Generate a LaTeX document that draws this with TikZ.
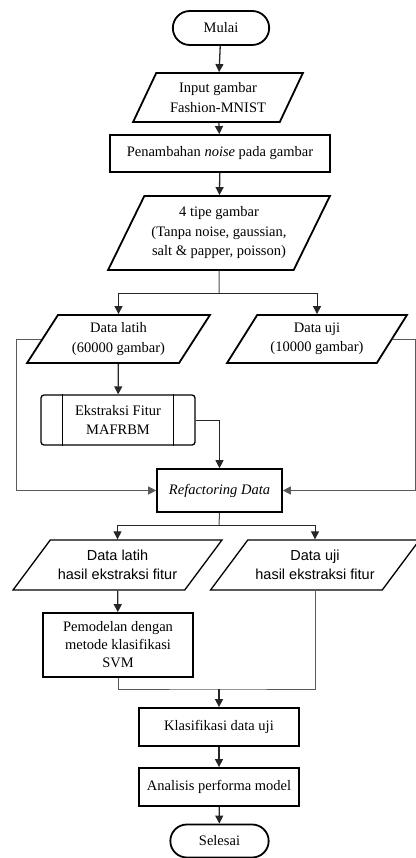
\documentclass[tikz,border=0pt]{standalone}
\usepackage{fontspec}
\setmainfont{Liberation Serif}
\newfontfamily\sansfont{Liberation Sans}
\usetikzlibrary{shapes.geometric,shapes.misc,arrows.meta,positioning}

\begin{document}
\begin{tikzpicture}[x=1pt,y=-1pt,font=\fontsize{14.5}{19.5}\selectfont]
      \tikzstyle{terminal} = [rounded rectangle, draw, line width=1.8pt, minimum width=103pt, minimum height=34pt]
      \tikzstyle{proses} = [rectangle, draw, line width=1.8pt, align=center, inner sep=2pt]
      \tikzstyle{subproses} = [rectangle, rounded corners=3pt, draw, line width=1.3pt, align=center, inner sep=2pt]
      \tikzstyle{io} = [trapezium, trapezium stretches=true, draw, line width=1.8pt, align=center, inner sep=2pt]
      \tikzstyle{sans} = [font=\fontsize{14.5}{19.5}\sansfont]
      \tikzstyle{panah} = [-{Triangle[length=8pt,width=8pt]}, line width=1.3pt, black!85]
      \tikzstyle{garis} = [line width=1pt, black!65]

      \useasboundingbox (0,0) rectangle (415,858);

      \node[terminal] (t1) at (221,28) {Mulai};
      \node[io, minimum width=170pt, minimum height=49pt, trapezium left angle=61, trapezium right angle=119] (d1) at (218,97.5) {Input gambar\\Fashion-MNIST};
      \node[proses, minimum width=220pt, minimum height=37pt] (p1) at (220,153.5) {Penambahan \textit{noise} pada gambar};
      \node[io, minimum width=222pt, minimum height=74pt, trapezium left angle=59, trapezium right angle=121] (d2) at (219,233) {4 tipe gambar\\(Tanpa noise, gaussian,\\salt \& papper, poisson)};

      \node[io, minimum width=183pt, minimum height=48pt, trapezium left angle=56, trapezium right angle=124] (d3) at (118.5,339) {Data latih\\(60000 gambar)};
      \node[io, minimum width=180pt, minimum height=48pt, trapezium left angle=56, trapezium right angle=124] (d4) at (317,339) {Data uji\\(10000 gambar)};

      \node[subproses, minimum width=154pt, minimum height=50pt] (p2) at (118,420) {Ekstraksi Fitur\\MAFRBM};
      \draw[line width=1.3pt] ([xshift=22pt]p2.north west) -- ([xshift=22pt]p2.south west);
      \draw[line width=1.3pt] ([xshift=-22pt]p2.north east) -- ([xshift=-22pt]p2.south east);

      \node[proses, line width=1.6pt, minimum width=125pt, minimum height=43pt] (p3) at (219.5,490.5) {\textit{Refactoring Data}};

      \node[io, sans, line width=1.3pt, minimum width=209pt, minimum height=50pt, trapezium left angle=45, trapezium right angle=135] (d5) at (117.5,565) {Data latih\\hasil ekstraksi fitur};
      \node[io, sans, line width=1.3pt, minimum width=209pt, minimum height=50pt, trapezium left angle=45, trapezium right angle=135] (d6) at (315,565) {Data uji\\hasil ekstraksi fitur};

      \node[proses, minimum width=150pt, minimum height=64pt, font=\fontsize{14.5}{18}\selectfont] (p4) at (118,645) {Pemodelan dengan\\metode klasifikasi\\SVM};
      \node[proses, minimum width=160pt, minimum height=38pt] (p5) at (219,727) {Klasifikasi data uji};
      \node[proses, minimum width=160pt, minimum height=38pt] (p6) at (219,787) {Analisis performa model};
      \node[terminal, minimum width=105pt, minimum height=33pt] (t2) at (219.5,841) {Selesai};

      \coordinate (c1) at (219,293);
      \coordinate (c2) at (219,525);
      \coordinate (c3) at (219,689);

      \draw[panah] (t1) -- (d1);
      \draw[panah] (d1) -- (p1);
      \draw[panah] (p1) -- (d2);
      \draw[line width=1pt, black!70] (d2.south) -- (c1);
      \draw[panah, line width=1pt] (c1) -| (d3.north);
      \draw[panah, line width=1pt] (c1) -| (d4.north);
      \draw[panah] (d3) -- (p2);
      \draw[panah, line width=1pt] (p2.east) -| (p3.north);
      \draw[garis, -{Triangle[length=8pt,width=8pt]}] (d3.west) -- ++(-25,0) |- (p3.west);
      \draw[garis, -{Triangle[length=8pt,width=8pt]}] (d4.east) -- ++(23,0) |- (p3.east);
      \draw[line width=1pt, black!70] (p3.south) -- (c2);
      \draw[panah, line width=1pt] (c2) -| (d5.north);
      \draw[panah, line width=1pt] (c2) -| (d6.north);
      \draw[panah] (d5) -- (p4);
      \draw[garis] (p4.south) |- (c3) -| (d6.south);
      \draw[panah] (c3) -- (p5);
      \draw[panah] (p5) -- (p6);
      \draw[panah] (p6) -- (t2);
    \end{tikzpicture}
\end{document}
